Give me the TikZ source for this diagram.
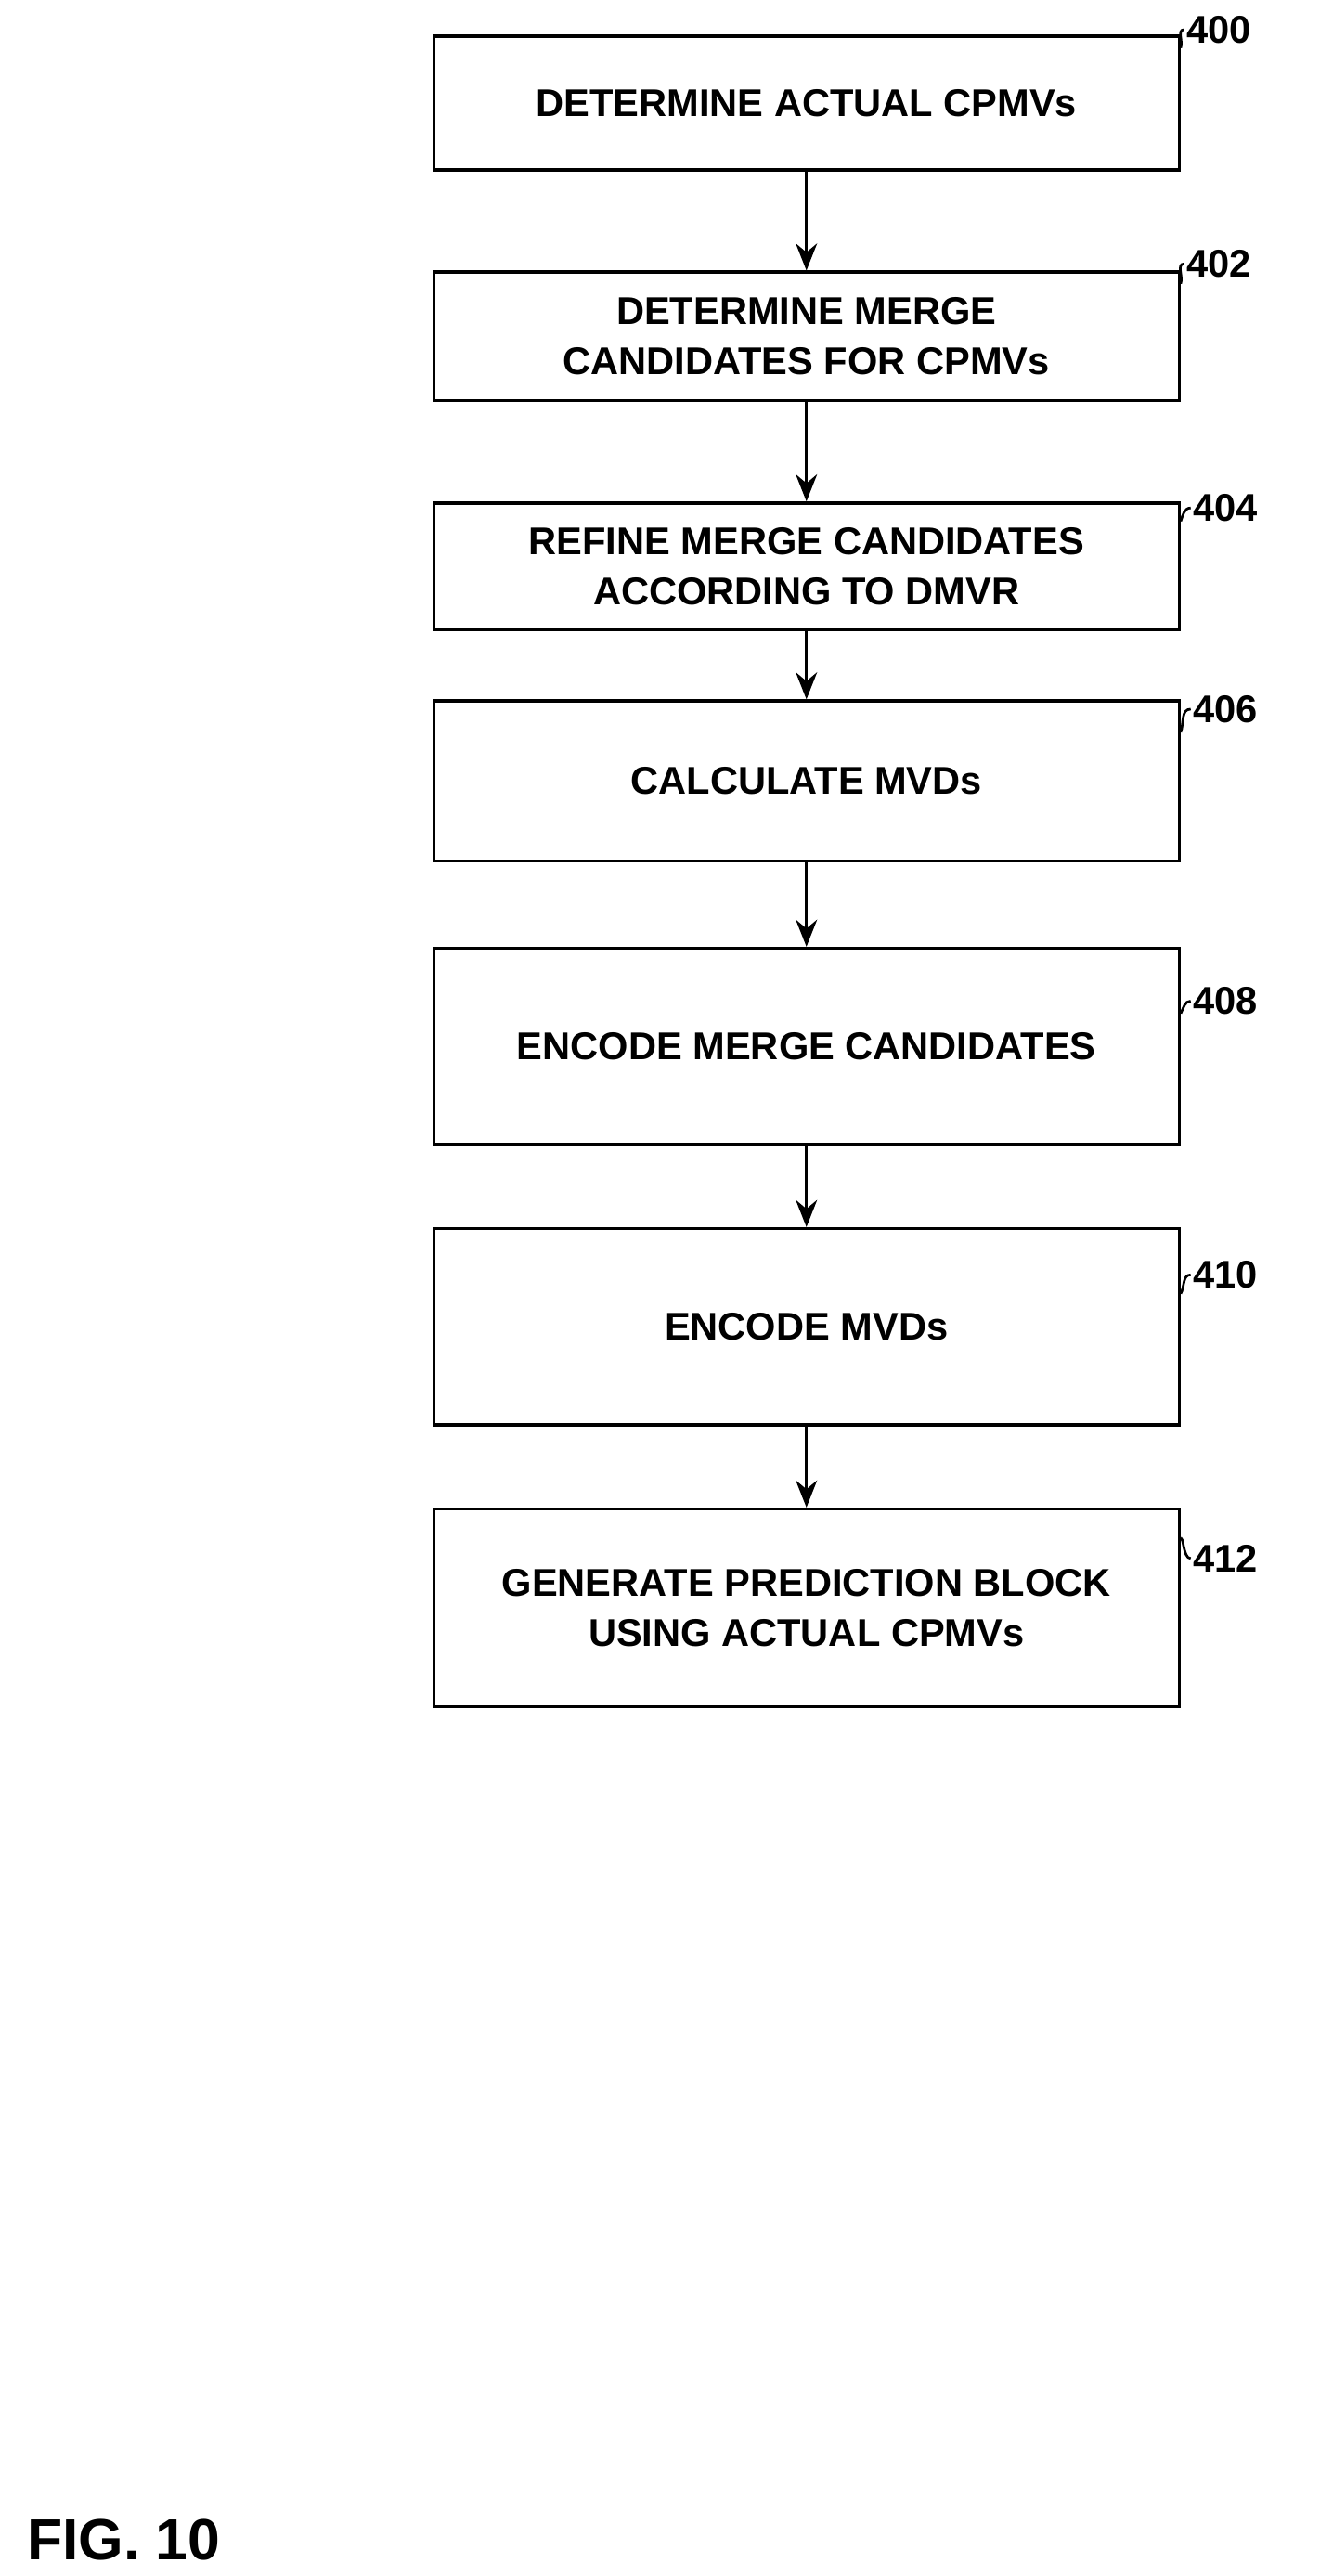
\documentclass[tikz,border=0pt]{standalone}
\usepackage{fontspec}
\setmainfont{Liberation Sans}
\usetikzlibrary{arrows.meta,positioning}
\tikzset{
    flowstep/.style={draw, line width=1.6pt, minimum width=452*0.3mm, align=center,
        font=\fontsize{20}{26}\selectfont\bfseries, inner sep=0pt},
    flow/.style={line width=1.6pt, -{Stealth[length=14pt,width=11pt]}},
    refnum/.style={font=\fontsize{20}{24}\selectfont\bfseries, anchor=west, inner sep=1pt},
    lead/.style={line width=1.3pt}
}
\begin{document}
\begin{tikzpicture}[x=0.3mm, y=-0.3mm]
    \useasboundingbox (0,0) rectangle (800,1562);
    % Steps
    \node[flowstep, minimum height=81*0.3mm] (s400) at (489,62.5) {DETERMINE ACTUAL CPMVs};
    \node[flowstep, minimum height=78*0.3mm] (s402) at (489,204) {DETERMINE MERGE\\CANDIDATES FOR CPMVs};
    \node[flowstep, minimum height=77*0.3mm] (s404) at (489,343.5) {REFINE MERGE CANDIDATES\\ACCORDING TO DMVR};
    \node[flowstep, minimum height=97*0.3mm] (s406) at (489,473.5) {CALCULATE MVDs};
    \node[flowstep, minimum height=119*0.3mm] (s408) at (489,634.5) {ENCODE MERGE CANDIDATES};
    \node[flowstep, minimum height=119*0.3mm] (s410) at (489,804.5) {ENCODE MVDs};
    \node[flowstep, minimum height=120*0.3mm] (s412) at (489,975) {GENERATE PREDICTION BLOCK\\USING ACTUAL CPMVs};
    % Arrows
    \foreach \a/\b in {s400/s402, s402/s404, s404/s406, s406/s408, s408/s410, s410/s412}
        \draw[flow] (\a) -- (\b);
    % Reference numerals
    \node[refnum] (n400) at (718,18) {400};
    \node[refnum] (n402) at (718,160) {402};
    \node[refnum] (n404) at (722,308) {404};
    \node[refnum] (n406) at (722,430) {406};
    \node[refnum] (n408) at (722,607) {408};
    \node[refnum] (n410) at (722,773) {410};
    \node[refnum] (n412) at (722,945) {412};
    \draw[lead] (s400.north east) ++(0,8) to[out=70,in=180] (n400.west);
    \draw[lead] (s402.north east) ++(0,8) to[out=70,in=180] (n402.west);
    \draw[lead] (s404.north east) ++(0,12) to[out=70,in=180] (n404.west);
    \draw[lead] (s406.north east) ++(0,20) to[out=70,in=180] (n406.west);
    \draw[lead] (s408.east) ++(0,-20) to[out=60,in=180] (n408.west);
    \draw[lead] (s410.east) ++(0,-20) to[out=60,in=180] (n410.west);
    \draw[lead] (s412.north east) ++(0,20) to[out=70,in=180] (n412.west);
    % Figure label
    \node[font=\fontsize{30}{36}\selectfont\bfseries] (fig) at (75,1540) {FIG. 10};
\end{tikzpicture}
\end{document}
